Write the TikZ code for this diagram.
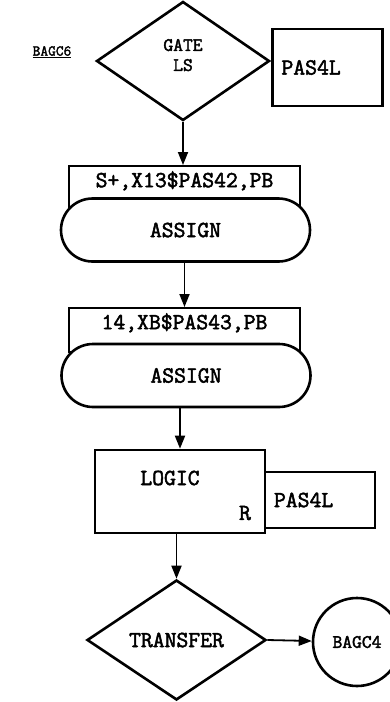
\documentclass[tikz,border=0pt]{standalone}
\usepackage{fontspec}
\setmonofont[FakeBold=2.2]{Latin Modern Mono}
\newcommand{\courfont}{\ttfamily}
\usetikzlibrary{positioning, arrows.meta, shapes.geometric}

\begin{document}
\begin{tikzpicture}[x=1pt, y=-1pt,
  decision/.style={draw, diamond, line width=2.6pt, inner sep=0pt, align=center,
    font=\fontsize{19}{20}\courfont},
  blockhead/.style={draw, fill=white, line width=2.4pt, anchor=north,
    minimum width=231pt, inner xsep=0pt, inner ysep=5pt,
    text height=16pt, text depth=18pt, font=\fontsize{23}{24}\courfont},
  assignbox/.style={draw, fill=white, line width=2.6pt, rounded corners=31.5pt,
    minimum width=249pt, minimum height=63pt, font=\fontsize{23}{24}\courfont},
  procbox/.style={draw, fill=white, line width=2.6pt, minimum width=170pt, minimum height=83pt},
  sidebox/.style={draw, fill=white, line width=2.6pt, inner xsep=9pt, text width=92pt,
    align=left, font=\fontsize{23}{24}\courfont},
  txt/.style={font=\fontsize{23}{24}\courfont},
  arrow/.style={-{Triangle[length=13pt, width=10pt]}, line width=1.8pt},
]
  \useasboundingbox (0,0) rectangle (389,702);

  % entry and gate
  \node[font=\fontsize{15}{16}\courfont] (bagc6) at (52,52) {\underline{BAGC6}};
  \node[decision, minimum width=173pt, minimum height=119pt, text depth=12pt] (gate) at (183,61) {GATE\\LS};
  \node[sidebox, minimum height=77pt] (pas1) at (327.5,67.5) {PAS4L};

  % first assign
  \node[blockhead] (h1) at (184.5,165) {S+,X13\$PAS42,PB};
  \node[assignbox] (a1) at (185.5,230) {ASSIGN};

  % second assign
  \node[blockhead] (h2) at (184.5,307) {14,XB\$PAS43,PB};
  \node[assignbox] (a2) at (186,375.5) {ASSIGN};

  % logic
  \node[procbox] (logic) at (180,491.5) {};
  \node[txt] (logiclbl) at (170,478) {LOGIC};
  \node[txt] (logicr) at (245,513) {R};
  \node[sidebox, minimum height=56pt] (pas2) at (320,500) {PAS4L};

  % transfer
  \node[decision, minimum width=179pt, minimum height=120pt,
    font=\fontsize{23}{24}\courfont] (transfer) at (176.5,640) {TRANSFER};
  \node[draw, circle, line width=2.6pt, minimum size=88pt, inner sep=0pt,
    font=\fontsize{19}{20}\courfont] (bagc4) at (357,642) {BAGC4};

  \draw[arrow] (gate.south) -- (gate.south |- h1.north);
  \draw[arrow] (a1.south -| h2.north) -- (h2.north);
  \draw[arrow] (a2.south -| logic.north) -- (logic.north);
  \draw[arrow] (logic.south -| transfer.north) -- (transfer.north);
  \draw[arrow] (transfer.east) -- (bagc4);
\end{tikzpicture}
\end{document}
